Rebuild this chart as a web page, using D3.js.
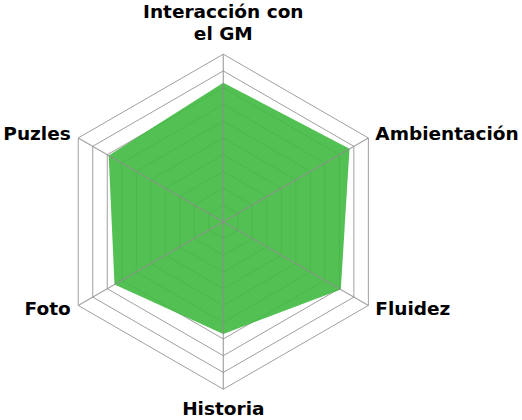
<!DOCTYPE html>
<html><head><meta charset="utf-8">
<script src="https://cdn.jsdelivr.net/npm/d3@7/dist/d3.min.js"></script>
<style>body{margin:0;background:#fff}svg{display:block}text{font-family:"DejaVu Sans";font-weight:bold;font-size:18.5px;fill:#000}</style>
</head><body><div id="chart"></div>
<script>
const categories = [["Interacción con","el GM"],["Ambientación"],["Fluidez"],["Historia"],["Foto"],["Puzles"]];
const values = [8.3, 8.7, 8.1, 6.7, 7.5, 7.9];
const ticks = [1,2,3,4,5,6,7,8,9,10];

const W=522,H=420,cx=223.3,cy=221.7,R=167.5;
const svg=d3.select("#chart").append("svg").attr("width",W).attr("height",H);
const r=d3.scaleLinear().domain([0,10]).range([0,R]);
const n=categories.length;
const ang=i=>-Math.PI/2+i*2*Math.PI/n;
const pt=(i,v)=>[cx+r(v)*Math.cos(ang(i)),cy+r(v)*Math.sin(ang(i))];
const line=d3.line();

// rings
svg.append("g").selectAll("path").data(ticks).join("path")
  .attr("d",t=>line(d3.range(n).map(i=>pt(i,t)))+"Z")
  .attr("fill","none").attr("stroke","#a0a0a0").attr("stroke-width",1);

// data
svg.append("path").attr("d",line(values.map((v,i)=>pt(i,v)))+"Z")
  .attr("fill","rgb(64,185,64)").attr("fill-opacity",0.9).attr("stroke","none");

// spokes
svg.append("g").selectAll("line").data(d3.range(n)).join("line")
  .attr("x1",cx).attr("y1",cy).attr("x2",i=>pt(i,10)[0]).attr("y2",i=>pt(i,10)[1])
  .attr("stroke","#8f8f8f").attr("stroke-opacity",0.8).attr("stroke-width",1.2);

// labels
const lab=svg.append("g");
categories.forEach((c,i)=>{
  const a=ang(i);
  const [vx,vy]=pt(i,10);
  const cosA=Math.cos(a), sinA=Math.sin(a);
  const t=lab.append("text");
  if(Math.abs(cosA)<0.1){
    t.attr("text-anchor","middle");
    if(sinA<0){
      c.forEach((s,k)=>t.append("tspan").attr("x",vx).attr("y",vy-14-(c.length-1-k)*22).text(s));
    } else {
      t.attr("x",vx).attr("y",vy+26).text(c[0]);
    }
  } else {
    t.attr("text-anchor",cosA>0?"start":"end")
     .attr("x",vx+(cosA>0?7:-7.5))
     .attr("y",vy+(sinA<0?2:10)).text(c[0]);
  }
});
</script></body></html>
